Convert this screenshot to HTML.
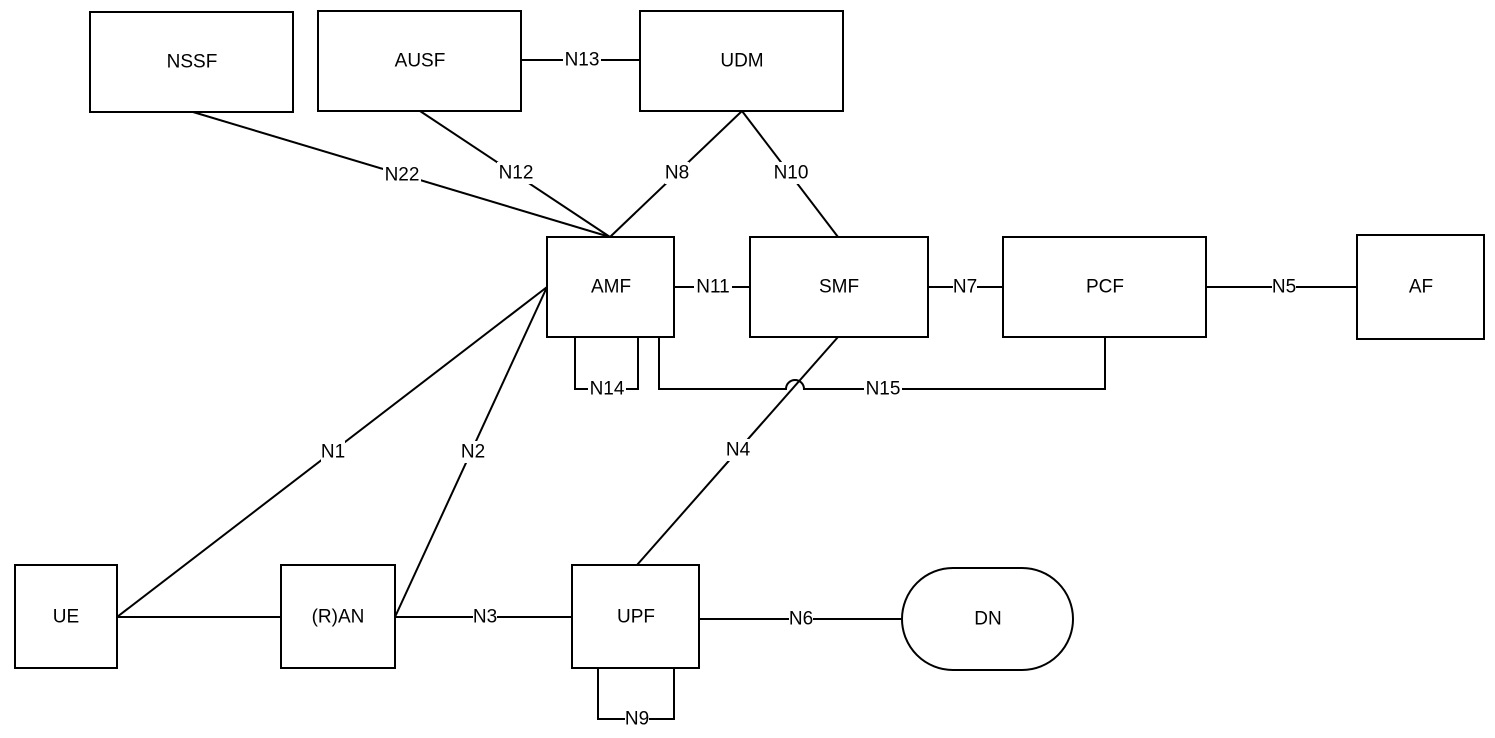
<!DOCTYPE html>
<html><head><style>
body{margin:0;background:#fff;}
svg{display:block;}
text{font-family:"Liberation Sans",Arial,sans-serif;font-size:19px;fill:#000;text-anchor:middle;dominant-baseline:central;}
.l{fill:#fff;stroke:none;}
</style></head><body>
<svg width="1495" height="738" viewBox="0 0 1495 738" xmlns="http://www.w3.org/2000/svg">
<g stroke="#000" stroke-width="2" fill="none">
<line x1="193" y1="112" x2="610" y2="237"/>
<line x1="420" y1="111" x2="610" y2="237"/>
<line x1="742" y1="111" x2="610" y2="237"/>
<line x1="742" y1="111" x2="838" y2="237"/>
<line x1="521" y1="60" x2="640" y2="60"/>
<line x1="674" y1="287" x2="750" y2="287"/>
<line x1="928" y1="287" x2="1003" y2="287"/>
<line x1="1206" y1="287" x2="1357" y2="287"/>
<polyline points="575,337 575,389 638,389 638,337"/>
<path d="M659,337 V389 H786 A9,9 0 0 1 804,389 H1105 V337"/>
<line x1="838" y1="337" x2="637" y2="565"/>
<line x1="547" y1="287" x2="117" y2="617"/>
<line x1="547" y1="287" x2="395" y2="617"/>
<line x1="117" y1="617" x2="281" y2="617"/>
<line x1="395" y1="617" x2="572" y2="617"/>
<line x1="699" y1="619" x2="902" y2="619"/>
<polyline points="598,668 598,719 674,719 674,668"/>
</g>
<g stroke="#000" stroke-width="2" fill="#fff">
<rect x="90" y="12" width="203" height="100"/>
<rect x="318" y="11" width="203" height="100"/>
<rect x="640" y="11" width="203" height="100"/>
<rect x="547" y="237" width="127" height="100"/>
<rect x="750" y="237" width="178" height="100"/>
<rect x="1003" y="237" width="203" height="100"/>
<rect x="1357" y="235" width="127" height="104"/>
<rect x="15" y="565" width="102" height="103"/>
<rect x="281" y="565" width="114" height="103"/>
<rect x="572" y="565" width="127" height="103"/>
<rect x="902" y="568" width="171" height="102" rx="51" ry="51"/>
</g>
<g>
<text x="192" y="62">NSSF</text>
<text x="420" y="61">AUSF</text>
<text x="742" y="61">UDM</text>
<text x="611" y="287">AMF</text>
<text x="839" y="287">SMF</text>
<text x="1105" y="287">PCF</text>
<text x="1421" y="287">AF</text>
<text x="66" y="617">UE</text>
<text x="338" y="617">(R)AN</text>
<text x="636" y="617">UPF</text>
<text x="988" y="619">DN</text>
</g>
<g>
<rect class="l" x="383" y="164" width="38" height="22"/><text x="402" y="175">N22</text>
<rect class="l" x="497" y="162" width="38" height="22"/><text x="516" y="173">N12</text>
<rect class="l" x="665" y="162" width="24" height="22"/><text x="677" y="173">N8</text>
<rect class="l" x="772" y="162" width="38" height="22"/><text x="791" y="173">N10</text>
<rect class="l" x="563" y="49" width="38" height="22"/><text x="582" y="60">N13</text>
<rect class="l" x="694" y="276" width="38" height="22"/><text x="713" y="287">N11</text>
<rect class="l" x="953" y="276" width="24" height="22"/><text x="965" y="287">N7</text>
<rect class="l" x="1272" y="276" width="24" height="22"/><text x="1284" y="287">N5</text>
<rect class="l" x="588" y="378" width="38" height="22"/><text x="607" y="389">N14</text>
<rect class="l" x="864" y="378" width="38" height="22"/><text x="883" y="389">N15</text>
<rect class="l" x="726" y="439" width="24" height="22"/><text x="738" y="450">N4</text>
<rect class="l" x="321" y="441" width="24" height="22"/><text x="333" y="452">N1</text>
<rect class="l" x="461" y="441" width="24" height="22"/><text x="473" y="452">N2</text>
<rect class="l" x="473" y="606" width="24" height="22"/><text x="485" y="617">N3</text>
<rect class="l" x="789" y="608" width="24" height="22"/><text x="801" y="619">N6</text>
<rect class="l" x="625" y="708" width="24" height="22"/><text x="637" y="719">N9</text>
</g>
</svg>
</body></html>
